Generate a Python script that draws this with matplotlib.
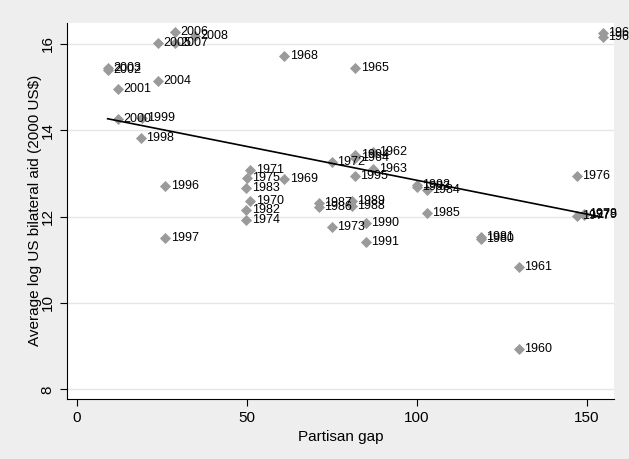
import numpy as np
import matplotlib
matplotlib.use("Agg")
import matplotlib.pyplot as plt

plt.rcParams['font.family'] = ['Liberation Sans', 'DejaVu Sans']

# year, partisan gap, average log US bilateral aid
years = [1960, 1961, 1962, 1963, 1964, 1965, 1966, 1967, 1968, 1969,
         1970, 1971, 1972, 1973, 1974, 1975, 1976, 1977, 1978, 1979,
         1980, 1981, 1982, 1983, 1984, 1985, 1986, 1987, 1988, 1989,
         1990, 1991, 1992, 1993, 1994, 1995, 1996, 1997, 1998, 1999,
         2000, 2001, 2002, 2003, 2004, 2005, 2006, 2007, 2008]
gap = [130.0, 130.0, 87.1, 87.1, 81.9, 81.9, 154.6, 154.6, 61.0, 61.0,
       51.0, 51.0, 75.0, 75.0, 49.8, 50.0, 147.0, 147.0, 149.0, 149.0,
       118.8, 118.8, 49.8, 49.8, 102.9, 102.9, 71.1, 71.1, 80.9, 80.9,
       85.0, 85.0, 100.0, 100.0, 81.9, 81.8, 26.0, 26.0, 18.9, 19.1,
       12.1, 12.1, 9.1, 9.1, 23.8, 23.8, 28.9, 28.9, 34.8]
aid = [8.94, 10.84, 13.50, 13.10, 13.35, 15.45, 16.25, 16.15, 15.71, 12.87,
       12.36, 13.08, 13.26, 11.77, 11.92, 12.89, 12.95, 12.02, 12.05, 12.03,
       11.49, 11.52, 12.15, 12.66, 12.62, 12.08, 12.22, 12.31, 12.25, 12.35,
       11.85, 11.42, 12.72, 12.68, 13.43, 12.93, 12.71, 11.50, 13.82, 14.28,
       14.26, 14.95, 15.40, 15.44, 15.13, 16.03, 16.27, 16.02, 16.19]

x = np.array(gap)
y = np.array(aid)
slope, icpt = np.polyfit(x, y, 1)
xfit = np.array([x.min(), x.max()])

fig = plt.figure(figsize=(6.29, 4.59), dpi=100, facecolor='#eeeeee')
ax = fig.add_axes([0.106, 0.1307, 0.87, 0.8198])
ax.set_facecolor('white')

ax.scatter(x, y, marker='D', s=32, color='#9a9a9a', linewidths=0, zorder=3)
for yr, xi, yi in zip(years, x, y):
    ax.annotate(str(yr), (xi, yi), xytext=(4, 0), textcoords='offset points',
                va='center', ha='left', fontsize=9, zorder=4)
ax.plot(xfit, icpt + slope * xfit, color='black', lw=1.2, zorder=5)

ax.set_xlim(-2.94, 157.9)
ax.set_ylim(7.775, 16.49)
ax.set_xticks([0, 50, 100, 150])
ax.set_yticks([8, 10, 12, 14, 16])
ax.tick_params(axis='y', labelrotation=90, length=5, labelsize=11)
ax.tick_params(axis='x', length=5, labelsize=11)
for lab in ax.get_yticklabels():
    lab.set_va('center')
ax.yaxis.grid(True, color='#e6e6e6', lw=1)
ax.set_axisbelow(True)
for s in ['top', 'right']:
    ax.spines[s].set_visible(False)
ax.set_xlabel('Partisan gap', fontsize=11)
ax.set_ylabel('Average log US bilateral aid (2000 US$)', fontsize=11, labelpad=-1)

fig.savefig('out.png', dpi=100, facecolor=fig.get_facecolor())
